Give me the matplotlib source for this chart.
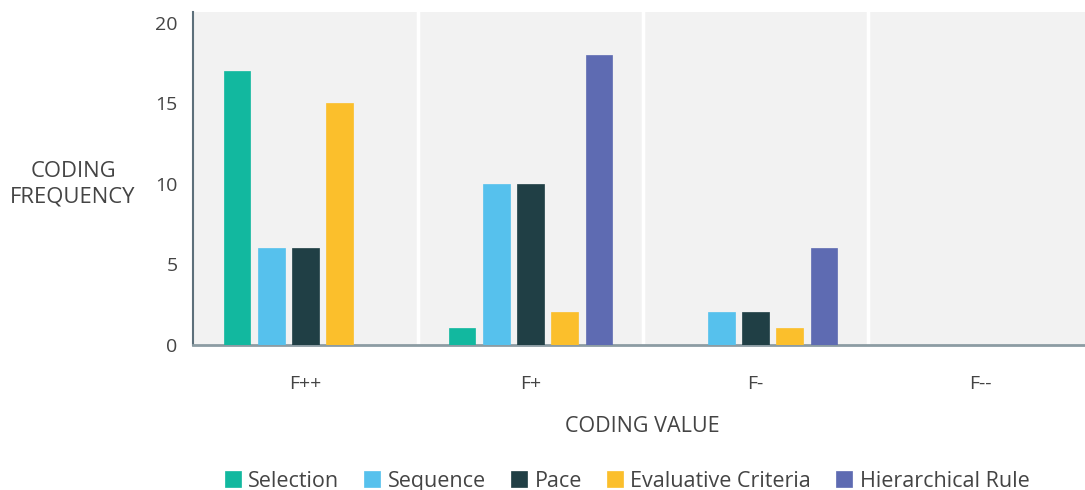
import matplotlib
matplotlib.use("Agg")
import matplotlib.pyplot as plt
import numpy as np

categories = ["F++", "F+", "F-", "F--"]
series_names = ["Selection", "Sequence", "Pace", "Evaluative Criteria", "Hierarchical Rule"]
selection = [17, 1, 0, 0]
sequence = [6, 10, 2, 0]
pace = [6, 10, 2, 0]
evaluative = [15, 2, 1, 0]
hierarchical = [0, 18, 6, 0]
y_ticks = [0, 5, 10, 15, 20]

series_values = [selection, sequence, pace, evaluative, hierarchical]
colors = ["#12b89f", "#56c1ed", "#203f45", "#fbbf2c", "#5e6bb2"]

plt.rcParams["font.family"] = ["Open Sans", "DejaVu Sans"]
text_color = "#444444"

fig = plt.figure(figsize=(10.85, 4.9), dpi=100)
ax = fig.add_axes([193 / 1085, 145.5 / 490, 1 - 193 / 1085, 333 / 490])
ax.set_facecolor("#f2f2f2")

x = np.arange(len(categories))
step = 0.152
width = 0.118
for i, (name, vals, col) in enumerate(zip(series_names, series_values, colors)):
    offs = (i - 2) * step
    ax.bar(x + offs, vals, width=width, color=col, label=name, zorder=3,
           edgecolor=col, linewidth=0.5)

# white dividers between groups
for b in x[:-1] + 0.5:
    ax.axvline(b, color="white", linewidth=2.5, zorder=1)

ax.set_xlim(-0.5, 3.5 - 8 / 225)
ax.set_ylim(0, 20.7)
ax.set_yticks(y_ticks)
ax.set_xticks(x)
ax.set_xticklabels(categories)

ax.tick_params(axis="both", length=0, labelsize=14, colors=text_color)
ax.tick_params(axis="y", pad=11)
ax.tick_params(axis="x", pad=22, labelsize=14)

for s in ["top", "right"]:
    ax.spines[s].set_visible(False)
ax.spines["left"].set_color("#5d707b")
ax.spines["left"].set_linewidth(1.5)
ax.spines["bottom"].set_color("#8c9ca3")
ax.spines["bottom"].set_linewidth(2)

fig.text(73 / 1085, 1 - 184 / 490, "CODING\nFREQUENCY", ha="center", va="center",
         fontsize=15.8, color=text_color, linespacing=1.25)
fig.text(642 / 1085, 1 - 426 / 490, "CODING VALUE", ha="center", va="center",
         fontsize=15.5, color=text_color)

leg = fig.legend(loc="center", bbox_to_anchor=(627 / 1085, 1 - 481 / 490), ncol=5,
                 frameon=False, fontsize=15.5, handlelength=0.75, handleheight=0.75,
                 handletextpad=0.35, columnspacing=1.15, borderaxespad=0)
for t in leg.get_texts():
    t.set_color(text_color)

fig.savefig("out.png", dpi=100)
